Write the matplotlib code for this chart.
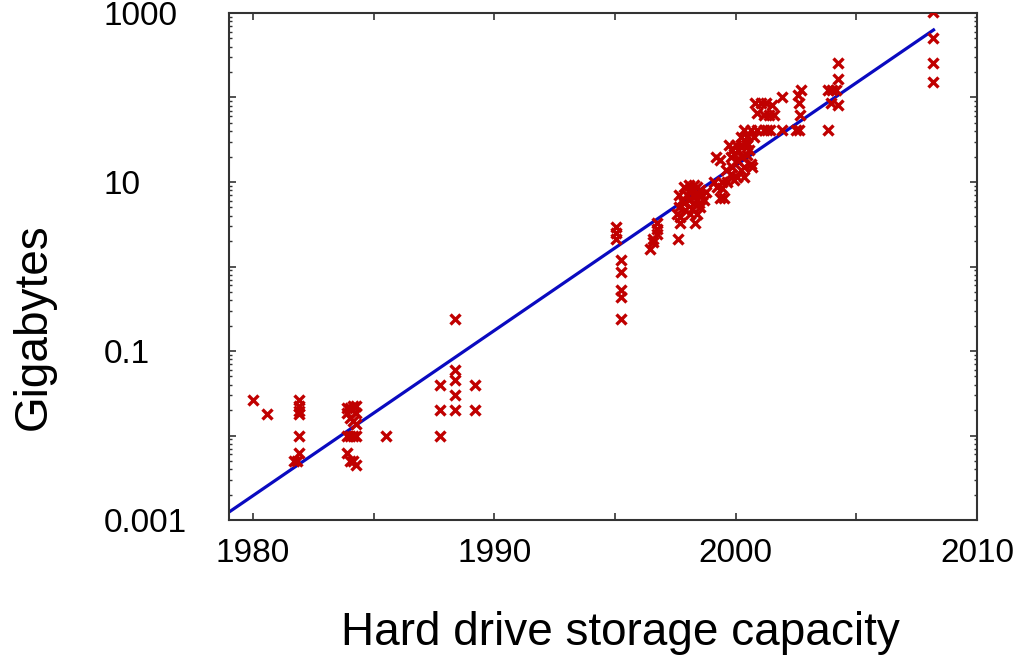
import matplotlib
matplotlib.use("Agg")
import matplotlib.pyplot as plt
import numpy as np

# Drive data: (year, capacity in GB)
drive_years = [
    1980.0, 1980.56,
    1981.92, 1981.92, 1981.92, 1981.92, 1981.92, 1981.92, 1981.7, 1981.83,
    1983.9, 1983.9, 1983.9, 1983.9,
    1984.02, 1984.02, 1984.02, 1984.02,
    1984.15, 1984.15, 1984.15, 1984.15,
    1984.27, 1984.27, 1984.27, 1984.27, 1984.27,
    1985.5,
    1987.75, 1987.75, 1987.75,
    1988.35, 1988.35, 1988.35, 1988.35, 1988.35,
    1989.18, 1989.18,
    1995.02, 1995.02, 1995.02,
    1995.25, 1995.25, 1995.25, 1995.25, 1995.25,
    1996.43, 1996.56, 1996.56, 1996.72, 1996.72, 1996.72,
    # 1997-1998 cluster
    1997.64, 1997.85, 1998.06, 1998.26, 1998.54, 1998.75, 1998.68, 1998.54,
    1998.40, 1998.12, 1997.71, 1998.33, 1997.64, 1997.85, 1998.06, 1998.26,
    1998.47, 1998.19, 1997.92, 1997.57, 1997.78, 1997.99, 1998.12, 1998.40,
    1998.61, 1997.71, 1998.26, 1998.47, 1997.62,
    # 1999-2001 cluster
    1999.17, 1999.37, 1999.10, 1999.24, 1999.45, 1999.45, 1999.37, 1999.51,
    1999.65, 1999.79, 1999.93, 1999.86, 1999.79, 1999.93, 1999.72, 2000.00,
    2000.20, 2000.06, 2000.27, 2000.48, 2000.62, 2000.68, 2000.20, 2000.06,
    2000.34, 2000.48, 2000.20, 2000.34, 2000.62, 2000.89, 2001.17, 2001.44,
    2000.48, 2000.75, 2000.82, 2001.03, 2001.24, 2001.51, 2000.89, 2001.17,
    2001.37, 2001.58, 2001.30, 2001.93, 2001.93,
    1999.86, 2000.10, 2000.41, 2000.55, 1999.58, 2000.34,
    # 2002-2004
    2002.70, 2002.57, 2002.64, 2002.68, 2002.64, 2002.50,
    2003.81, 2003.98, 2003.96, 2004.23, 2003.81, 2004.23, 2004.23, 2004.16,
    # 2008
    2008.18, 2008.18, 2008.18, 2008.18,
]
drive_gb = [
    0.026, 0.018,
    0.026, 0.0225, 0.0197, 0.0179, 0.0099, 0.0062, 0.005, 0.005,
    0.0213, 0.0186, 0.0099, 0.0062,
    0.0213, 0.0162, 0.0099, 0.005,
    0.0225, 0.0149, 0.0099, 0.005,
    0.0225, 0.0186, 0.0137, 0.0099, 0.0045,
    0.0099,
    0.040, 0.020, 0.0099,
    0.24, 0.060, 0.045, 0.030, 0.020,
    0.040, 0.020,
    2.93, 2.5, 2.09,
    1.20, 0.86, 0.53, 0.44, 0.24,
    1.62, 1.94, 2.09, 2.44, 2.8, 3.3,
    7.1, 8.8, 9.1, 9.1, 8.0, 7.6, 6.07, 5.0,
    4.2, 4.2, 3.3, 3.3, 5.0, 5.6, 6.07, 6.6,
    6.95, 4.8, 4.6, 4.2, 6.07, 6.95, 8.0, 8.8,
    7.1, 3.9, 5.6, 5.6, 2.09,
    19.8, 18.1, 10.0, 8.8, 10.0, 8.4, 6.4, 6.4,
    10.0, 12.5, 10.5, 15.0, 19.8, 21.5, 27.5, 27.5,
    27.5, 18.1, 19.8, 20.6, 16.5, 15.0, 13.7, 11.5,
    15.0, 27.5, 34.5, 41, 41, 41, 41, 41,
    34.5, 34.5, 86, 86, 86, 81, 65, 62,
    62, 62, 41, 102, 41,
    24, 23.8, 30, 24, 13.7, 11.4,
    122, 106, 86, 62, 41, 41,
    122, 122, 86, 81, 41, 258, 165, 122,
    1037, 510, 258, 153,
]

# Trend line end points (straight on the log axis)
trend_years = [1979.0, 2008.2]
trend_gb = [0.00124, 630]

x_ticks = [1980, 1985, 1990, 1995, 2000, 2005, 2010]
x_tick_labels = ["1980", "", "1990", "", "2000", "", "2010"]
y_ticks = [0.001, 0.01, 0.1, 1, 10, 100, 1000]
y_tick_labels = ["0.001", "", "0.1", "", "10", "", "1000"]

plt.rcParams["font.family"] = ["Liberation Sans", "DejaVu Sans"]

fig = plt.figure(figsize=(10.14, 6.56), dpi=100)
ax = fig.add_axes([0.2258, 0.2073, 0.7377, 0.7729])

ax.plot(trend_years, trend_gb, color="#0A0AC0", linewidth=2.3, zorder=2)
ax.plot(drive_years, drive_gb, linestyle="none", marker="x", color="#C00000",
        markersize=6.5, markeredgewidth=2.4, zorder=3)

ax.set_yscale("log")
ax.set_xlim(1979, 2010)
ax.set_ylim(0.001, 1000)

ax.set_xticks(x_ticks)
ax.set_xticklabels(x_tick_labels)
ax.set_yticks(y_ticks)
ax.set_yticklabels(y_tick_labels)
ax.yaxis.set_minor_locator(matplotlib.ticker.LogLocator(base=10, subs=np.arange(2, 10)))
ax.yaxis.set_minor_formatter(matplotlib.ticker.NullFormatter())

ax.tick_params(axis="x", which="major", direction="in", length=5, width=1.2,
               top=True, labelsize=24, pad=13, colors="#333333", labelcolor="black")
ax.tick_params(axis="y", which="major", direction="in", length=5, width=1.2,
               right=True, labelsize=24, pad=90, colors="#333333", labelcolor="black")
ax.tick_params(axis="y", which="minor", direction="in", length=2.5, width=1.0,
               right=True, colors="#333333")
for label in ax.get_yticklabels():
    label.set_horizontalalignment("left")

for spine in ax.spines.values():
    spine.set_color("#333333")
    spine.set_linewidth(1.5)

ax.set_xlabel("Hard drive storage capacity", fontsize=33)
ax.xaxis.set_label_coords(0.523, -0.180)
ax.set_ylabel("Gigabytes", fontsize=33)
ax.yaxis.set_label_coords(-0.232, 0.381)

fig.savefig("out.png", dpi=100)
